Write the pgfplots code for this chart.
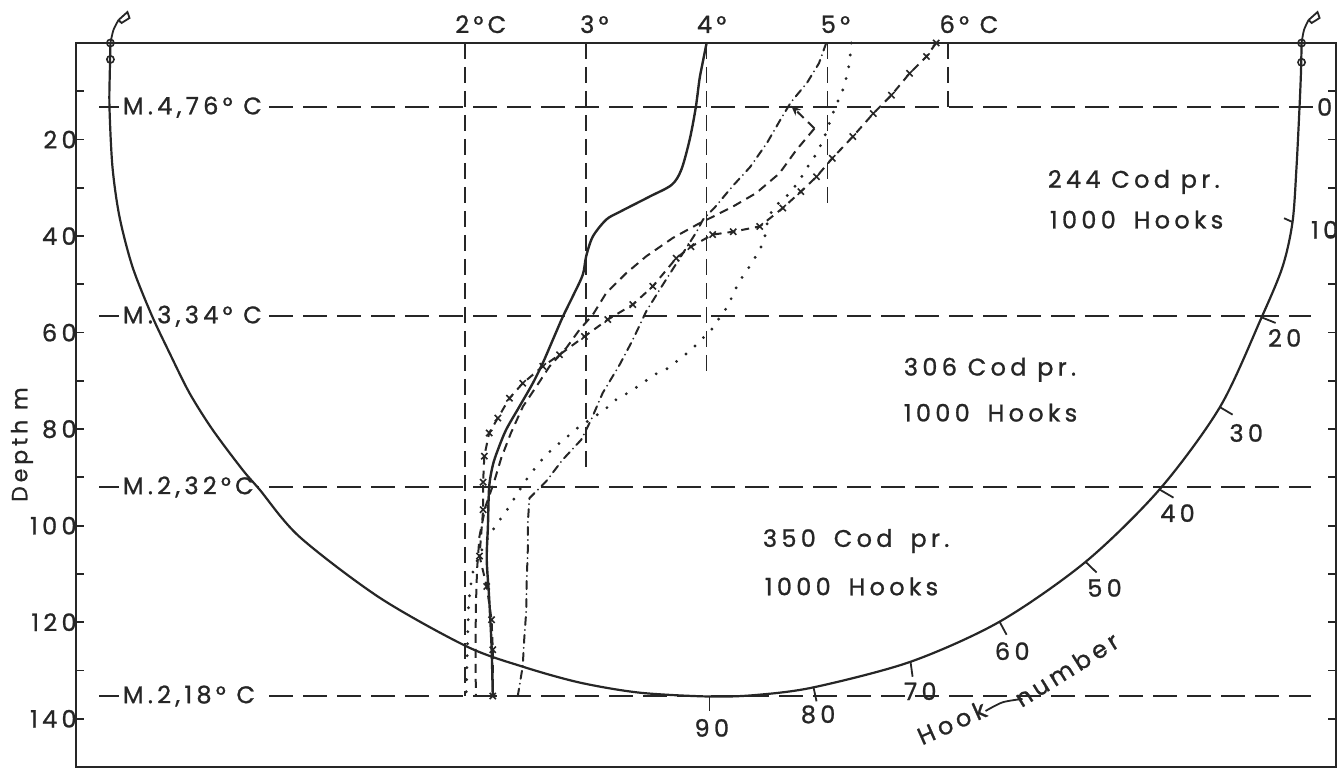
\documentclass[border=0pt]{standalone}
\usepackage{fontspec}
\setmainfont{Poppins}[LetterSpace=18, FakeBold=1]
\usepackage{pgfplots}
\pgfplotsset{compat=1.18}
\usetikzlibrary{arrows.meta}
\definecolor{ink}{gray}{0.15}
\newcommand{\lab}{\fontsize{12}{14}\selectfont}
\newcommand{\wsp}{\hspace{0.3em}}

\begin{document}
\begin{tikzpicture}
\begin{axis}[
  at={(0,0)}, anchor=south west,
  width=630pt, height=362pt, scale only axis,
  xmin=-1.22, xmax=9.21, ymin=0, ymax=150, y dir=reverse,
  clip=false,
  axis line style={ink, line width=1.2pt},
  xtick=\empty,
  ytick={20,40,...,140}, minor ytick={10,30,...,130},
  tick pos=both, yticklabel pos=left,
  tick align=inside,
  major tick length=4pt, minor tick length=4pt,
  tick style={ink, line width=0.9pt},
  yticklabel style={font=\lab, text=ink, inner sep=0.5pt, xshift=1pt},
  /pgf/number format/assume math mode=true,
]
% temperature reference lines
\addplot[ink, line width=0.75pt, dash pattern=on 8pt off 4pt] coordinates {(2,0) (2,135.3)};
\addplot[ink, line width=0.75pt, dash pattern=on 8pt off 4pt] coordinates {(3,0) (3,88.8)};
\addplot[ink, line width=0.75pt, dash pattern=on 8pt off 4pt] coordinates {(4,0) (4,69)};
\addplot[ink, line width=0.75pt, dash pattern=on 8pt off 4pt] coordinates {(5,0) (5,34.6)};
\addplot[ink, line width=0.75pt, dash pattern=on 8pt off 4pt] coordinates {(6,0) (6,13.3)};
% layer lines
\addplot[ink, line width=1.1pt, dash pattern=on 12pt off 5pt] coordinates {(-1.026,13.3) (9.02,13.3)};
\addplot[ink, line width=1.1pt, dash pattern=on 12pt off 5pt] coordinates {(-1.026,56.6) (9.0,56.6)};
\addplot[ink, line width=1.1pt, dash pattern=on 12pt off 5pt] coordinates {(-1.026,92.0) (9.0,92.0)};
\addplot[ink, line width=1.1pt, dash pattern=on 12pt off 5pt] coordinates {(-1.026,135.3) (9.0,135.3)};
\node[anchor=west, fill=white, inner xsep=2pt, inner ysep=1pt, font=\lab, text=ink] at (axis cs:-0.868,13.3) {M.4,76° C};
\node[anchor=west, fill=white, inner xsep=2pt, inner ysep=1pt, font=\lab, text=ink] at (axis cs:-0.868,56.6) {M.3,34° C};
\node[anchor=west, fill=white, inner xsep=2pt, inner ysep=1pt, font=\lab, text=ink] at (axis cs:-0.868,92.0) {M.2,32°C};
\node[anchor=west, fill=white, inner xsep=2pt, inner ysep=1pt, font=\lab, text=ink] at (axis cs:-0.868,135.3) {M.2,18° C};

% long line with hooks
\addplot[ink, line width=1.1pt, smooth] coordinates {
(-0.935,0) (-0.94,6) (-0.943,13.25) (-0.918,25.7) (-0.86,36.0) (-0.752,46.4)
(-0.595,56.3) (-0.446,64.2) (-0.281,72.5) (-0.09,80.1) (0.158,88.4) (0.299,92.5)
(0.63,102.3) (1.292,114.9) (2.012,125.0) (2.476,129.2) (2.948,132.5)
(3.445,134.6) (4.024,135.4) (4.4,135.1) (4.885,133.5) (5.688,128.2) (6.425,119.9)
(7.137,107.5) (7.749,92.5) (8.25,75.4) (8.593,56.9) (8.767,46.4) (8.85,37.1)
(8.883,25.7) (8.908,13.25) (8.92,6) (8.925,0)};
% hook ticks
\addplot[ink, line width=0.9pt] coordinates {(8.85,37.1) (8.78,36.3)};
\addplot[ink, line width=0.9pt] coordinates {(8.6,56.9) (8.71,58.0)};
\addplot[ink, line width=0.9pt] coordinates {(8.246,75.4) (8.354,77.0)};
\addplot[ink, line width=0.9pt] coordinates {(7.749,92.5) (7.865,94.2)};
\addplot[ink, line width=0.9pt] coordinates {(7.137,107.5) (7.228,109.7)};
\addplot[ink, line width=0.9pt] coordinates {(6.425,119.9) (6.483,122.6)};
\addplot[ink, line width=0.9pt] coordinates {(5.688,128.2) (5.705,131.3)};
\addplot[ink, line width=0.9pt] coordinates {(4.885,133.5) (4.91,136.4)};
\addplot[ink, line width=0.9pt] coordinates {(4.024,135.4) (4.024,138.5)};
% buoys / flags
\addplot[ink, line width=0.9pt, smooth] coordinates {(-0.935,0) (-0.91,-2.7) (-0.868,-4.76)};
\addplot[ink, line width=0.9pt, fill=white] coordinates {(-0.868,-4.76) (-0.794,-6.42) (-0.777,-5.18) (-0.843,-4.14) (-0.868,-4.76)};
\addplot[ink, line width=0.9pt, smooth] coordinates {(8.925,0) (8.945,-2.7) (8.983,-4.76)};
\addplot[ink, line width=0.9pt, fill=white] coordinates {(8.983,-4.76) (9.057,-6.42) (9.074,-5.18) (9.008,-4.14) (8.983,-4.76)};
\addplot[ink, only marks, mark=o, mark size=1.8pt, mark options={fill=white, line width=0.8pt}] coordinates {(-0.935,0) (-0.935,3.4) (8.925,0) (8.925,4.0)};

% temperature profiles
\addplot[ink, line width=1.2pt, smooth] coordinates {
(4.0,0) (3.96,5) (3.94,7.7) (3.91,13.4) (3.86,20) (3.79,26.3) (3.71,29.4)
(3.53,31.8) (3.28,35) (3.169,36.6) (3.058,40.1) (3.003,44.2) (2.975,48.0)
(2.892,52.5) (2.81,56.7) (2.727,61.5) (2.644,66.3) (2.561,70.5) (2.451,75.3)
(2.341,80.1) (2.272,84.3) (2.23,87.5) (2.2,92) (2.19,100) (2.18,107) (2.2,115)
(2.22,125) (2.23,135.3)};
\addplot[ink, line width=1pt, line cap=round, dash pattern=on 4pt off 2.5pt on 0pt off 2.5pt] coordinates {
(4.99,0) (4.93,4.2) (4.83,8.3) (4.70,12.2) (4.62,15.5) (4.50,20.7) (4.36,25.7)
(4.21,29.8) (4.07,34) (3.97,36.6) (3.91,39.4) (3.78,44.5) (3.637,50.1) (3.5,55.6)
(3.389,61.5) (3.279,66.7) (3.14,72.5) (3.045,78) (2.962,82.2) (2.81,86.3)
(2.672,90.8) (2.534,94.3) (2.52,99.4) (2.52,105) (2.51,111.9) (2.507,117.7)
(2.49,123.6) (2.478,129.1) (2.437,135.3)};
\addplot[ink, line width=1pt, dash pattern=on 4.5pt off 3pt] coordinates {
(4.893,17.7) (4.742,22.2) (4.603,27.0) (4.41,31.1) (4.217,33.9) (4.051,36.0)
(3.93,37.5) (3.72,40.4) (3.5,44.2) (3.334,47.7) (3.169,51.8) (3.058,56.3)
(2.948,59.4) (2.838,63.2) (2.7,67) (2.59,71.2) (2.48,75.3) (2.38,80.8) (2.3,86)
(2.24,91) (2.17,96) (2.12,102.2) (2.1,109) (2.09,116.7) (2.087,126.4) (2.09,135.3)};
\addplot[ink, line width=1pt, dash pattern=on 4.5pt off 3pt, -{Stealth[length=5pt,width=4pt]}] coordinates {(4.893,17.7) (4.70,13.0)};
\addplot[ink, line width=1.6pt, line cap=round, dash pattern=on 0pt off 6pt] coordinates {
(5.197,0) (5.183,4.2) (5.14,9.0) (5.086,12.1) (5.045,14.6) (4.976,19.4) (4.92,22.5)
(4.838,25.6) (4.755,29.0) (4.66,31.8) (4.548,34.2) (4.5,37.5) (4.48,40.4) (4.44,42.9)
(4.38,45.3) (4.33,47.3) (4.27,49.4) (4.217,52.2) (4.176,54.5) (4.1,57.2) (4.04,59.4)
(3.955,61.5) (3.87,63.6) (3.776,65.5) (3.68,67.4) (3.57,68.7) (3.467,70.5)
(3.362,72.3) (3.25,73.9) (3.155,76.0) (3.045,77.9) (2.948,79.4) (2.85,81.5)
(2.768,83.2) (2.672,85.3) (2.6,87.4) (2.507,90.5) (2.437,93.2) (2.368,96.0)
(2.3,98.4) (2.2,102) (2.12,106) (2.06,110) (2.03,116) (2.02,125) (2.01,135.3)};
\addplot[ink, line width=1pt, dash pattern=on 4pt off 3pt, mark=x, mark size=2.2pt, mark options={solid, line width=0.8pt}] coordinates {
(5.90,0) (5.82,2.8) (5.68,6.3) (5.53,10.8) (5.38,14.6) (5.21,19.4) (5.04,23.9)
(4.91,27.7) (4.78,30.8) (4.63,34.2) (4.44,38.0) (4.22,39.1) (4.05,39.7) (3.87,42.2)
(3.748,44.6) (3.555,50.4) (3.389,54.2) (3.182,57.3) (2.989,60.8) (2.782,64.6)
(2.644,67.0) (2.478,70.5) (2.368,73.6) (2.272,77.7) (2.2,80.8) (2.16,85.6)
(2.15,91) (2.15,96.7) (2.12,106.3) (2.18,112.6) (2.22,119.5) (2.23,125.7) (2.23,135.3)};

% top temperature labels
\node[anchor=base west, inner sep=0, font=\lab, text=ink, xshift=-5pt, yshift=5pt] at (axis cs:2,0) {2°C};
\node[anchor=base west, inner sep=0, font=\lab, text=ink, xshift=-3pt, yshift=5pt] at (axis cs:3,0) {3°};
\node[anchor=base west, inner sep=0, font=\lab, text=ink, xshift=-5pt, yshift=5pt] at (axis cs:4,0) {4°};
\node[anchor=base west, inner sep=0, font=\lab, text=ink, xshift=-3.5pt, yshift=5pt] at (axis cs:5,0) {5°};
\node[anchor=base west, inner sep=0, font=\lab, text=ink, xshift=-4.5pt, yshift=5pt] at (axis cs:6,0) {6° C};

% catch texts
\node[anchor=west, inner sep=0, font=\lab, text=ink] at (axis cs:6.822,28.8) {244 Cod pr.};
\node[anchor=west, inner sep=0, font=\lab, text=ink] at (axis cs:6.839,36.6) {1000 \wsp Hooks};
\node[anchor=west, inner sep=0, font=\lab, text=ink] at (axis cs:5.63,67.7) {306 Cod pr.};
\node[anchor=west, inner sep=0, font=\lab, text=ink] at (axis cs:5.63,76.6) {1000 \wsp Hooks};
\node[anchor=west, inner sep=0, font=\lab, text=ink] at (axis cs:4.463,103.2) {350 \wsp Cod \wsp pr.};
\node[anchor=west, inner sep=0, font=\lab, text=ink] at (axis cs:4.479,112.6) {1000 \wsp Hooks};

% hook numbers
\node[font=\lab, text=ink, inner sep=0] at (axis cs:9.116,13.25) {0};
\node[font=\lab, text=ink, inner sep=0] at (axis cs:9.116,38.7) {10};
\node[font=\lab, text=ink, inner sep=0] at (axis cs:8.785,61.1) {20};
\node[font=\lab, text=ink, inner sep=0] at (axis cs:8.467,80.8) {30};
\node[font=\lab, text=ink, inner sep=0] at (axis cs:7.898,97.4) {40};
\node[font=\lab, text=ink, inner sep=0] at (axis cs:7.294,112.9) {50};
\node[font=\lab, text=ink, inner sep=0] at (axis cs:6.53,126.0) {60};
\node[font=\lab, text=ink, inner sep=0] at (axis cs:5.769,134.3) {70};
\node[font=\lab, text=ink, inner sep=0] at (axis cs:4.923,139.1) {80};
\node[font=\lab, text=ink, inner sep=0] at (axis cs:4.043,141.9) {90};
\node[font=\lab, text=ink, inner sep=0, rotate=24] at (axis cs:6.03,140.8) {Hook};
\addplot[ink, line width=0.9pt, smooth] coordinates {(6.309,138.4) (6.45,136.6) (6.615,135.9)};
\node[font=\lab, text=ink, inner sep=0, rotate=32] at (axis cs:6.98,129.8) {number};

% axis label
\node[font=\fontsize{11}{13}\selectfont, text=ink, rotate=90] at ([xshift=-27pt]axis cs:-1.22,83.2) {Depth m};
\end{axis}
\pgfresetboundingbox
\path (-38pt,-1pt) rectangle (632.5pt,383.5pt);
\end{tikzpicture}
\end{document}
